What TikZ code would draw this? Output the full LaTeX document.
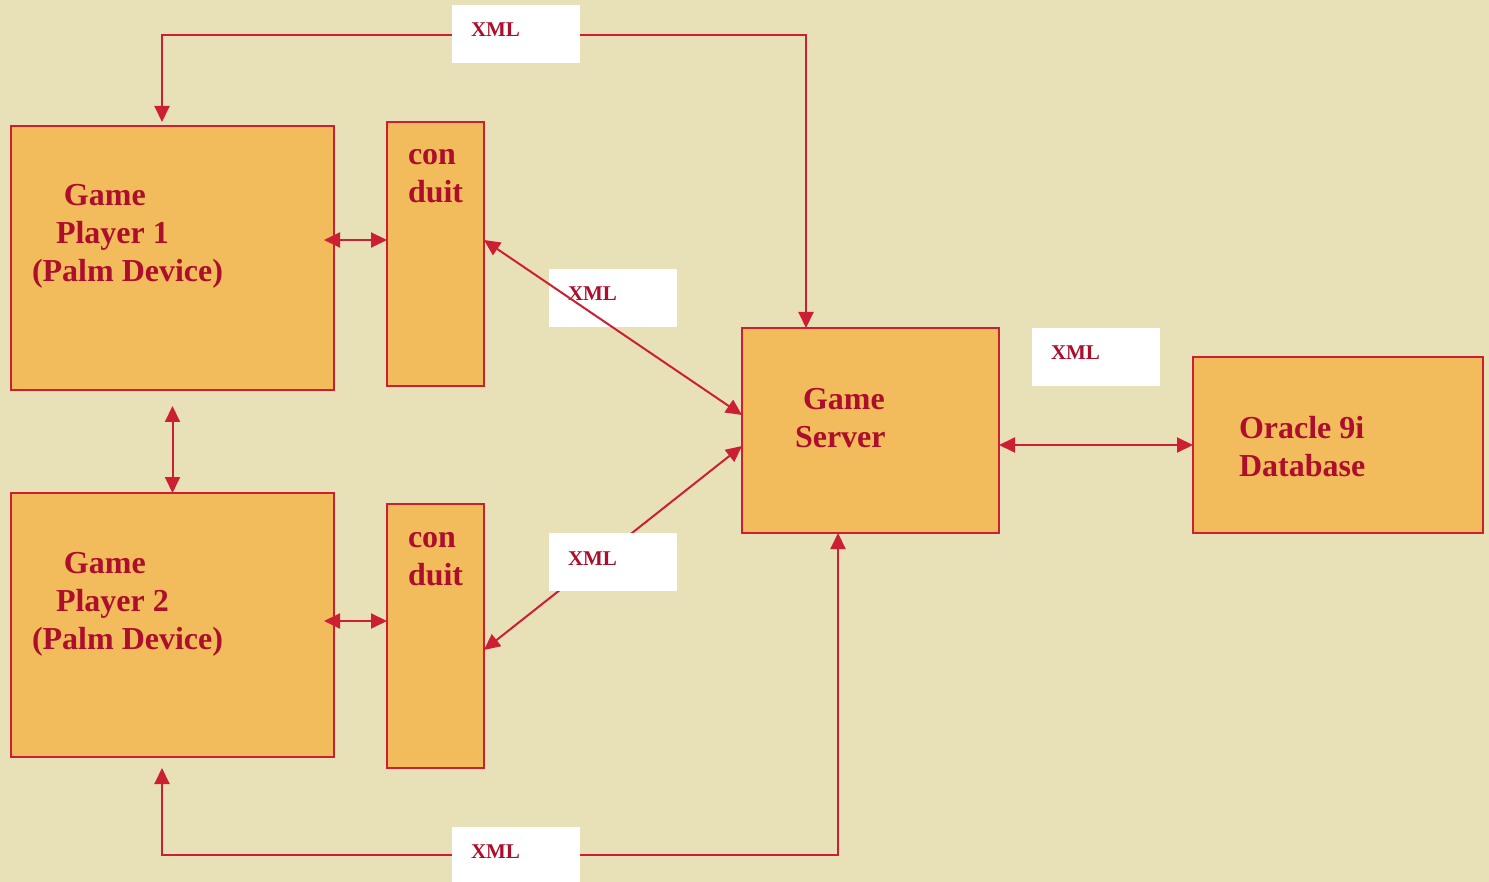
\documentclass[tikz,border=0pt]{standalone}
\usepackage{fontspec}
\setmainfont{Liberation Serif}
\usepackage{xcolor}
\usepackage{tikz}
\usetikzlibrary{positioning,arrows.meta,calc}
\definecolor{paper}{HTML}{E8E1B8}
\definecolor{boxfill}{HTML}{F2BC5C}
\definecolor{wire}{HTML}{CC1F33}
\definecolor{ink}{HTML}{AC0E2C}

\begin{document}
\begin{tikzpicture}[x=1pt,y=-1pt,
  every node/.style={inner sep=0pt,outer sep=0pt},
  unit/.style={draw=wire,line width=2pt,fill=boxfill,anchor=north west},
  lbl/.style={anchor=base west,align=left,text=ink,font=\fontsize{32}{38}\selectfont\bfseries},
  xmlbox/.style={fill=white,anchor=north west,minimum width=128pt,minimum height=58pt},
  xmltext/.style={anchor=base west,text=ink,font=\fontsize{21}{25}\selectfont\bfseries},
  link/.style={draw=wire,line width=2pt,{Triangle[length=16pt,width=15pt]}-{Triangle[length=16pt,width=15pt]}}]
  % background
  \fill[paper] (0,0) rectangle (1489,882);
  \useasboundingbox (0,0) rectangle (1489,882);

  % boxes
  \node[unit,minimum width=323pt,minimum height=264pt] (p1) at (11,126) {};
  \node[unit,minimum width=97pt,minimum height=264pt] (c1) at (387,122) {};
  \node[unit,minimum width=323pt,minimum height=264pt] (p2) at (11,493) {};
  \node[unit,minimum width=97pt,minimum height=264pt] (c2) at (387,504) {};
  \node[unit,minimum width=257pt,minimum height=205pt] (srv) at (742,328) {};
  \node[unit,minimum width=290pt,minimum height=176pt] (ora) at (1193,357) {};

  % texts (placed at the baseline of their last line)
  \node[lbl] (p1txt) at (32,282) {\hspace*{32pt}Game\\\hspace*{24pt}Player 1\\(Palm Device)};
  \node[lbl] (p2txt) at (32,649) {\hspace*{32pt}Game\\\hspace*{24pt}Player 2\\(Palm Device)};
  \node[lbl] (c1txt) at (408,203) {con\\duit};
  \node[lbl] (c2txt) at (408,585) {con\\duit};
  \node[lbl] (srvtxt) at (795,448) {\hspace*{8pt}Game\\Server};
  \node[lbl] (oratxt) at (1239,476) {Oracle 9i\\Database};

  % the upper XML label lies under its line
  \node[xmlbox] (xm1) at (549,269) {};
  \node[xmltext] (xm1t) at (568,301) {XML};

  % links
  \coordinate (ytop) at (0,35);
  \coordinate (ybot) at (0,855);
  \coordinate (srvtop) at ([xshift=-64.5pt]srv.north);
  \coordinate (srvbot) at ([xshift=-32.5pt]srv.south);
  \coordinate (p1top) at ([xshift=-10.5pt,yshift=4pt]p1.north);
  \coordinate (p2bot) at ([xshift=-10.5pt,yshift=-11pt]p2.south);
  \draw[link] ([yshift=14pt]c1.west) -- ([xshift=-10pt,yshift=18pt]p1.east);
  \draw[link] ([yshift=15pt]c2.west) -- ([xshift=-10pt,yshift=4pt]p2.east);
  \draw[link] ([yshift=-16pt]p1.south) -- (p2.north);
  \draw[link] ([yshift=14pt]c1.east) -- ([yshift=15.5pt]srv.west);
  \draw[link] ([yshift=-15.5pt]srv.west) -- ([yshift=-14pt]c2.east);
  \draw[link] (srv.east |- ora.west) -- (ora.west);
  \draw[link] (srvtop) -- (srvtop |- ytop) -| (p1top);
  \draw[link] (srvbot) -- (srvbot |- ybot) -| (p2bot);

  % XML labels over their lines
  \node[xmlbox] (xtop) at (452,5) {};
  \node[xmlbox] (xbot) at (452,827) {};
  \node[xmlbox] (xm2) at (549,533) {};
  \node[xmlbox] (xr) at (1032,328) {};
  \node[xmltext] (xtopt) at (471,37) {XML};
  \node[xmltext] (xbott) at (471,858) {XML};
  \node[xmltext] (xm2t) at (568,565) {XML};
  \node[xmltext] (xrt) at (1051,360) {XML};
\end{tikzpicture}
\end{document}
